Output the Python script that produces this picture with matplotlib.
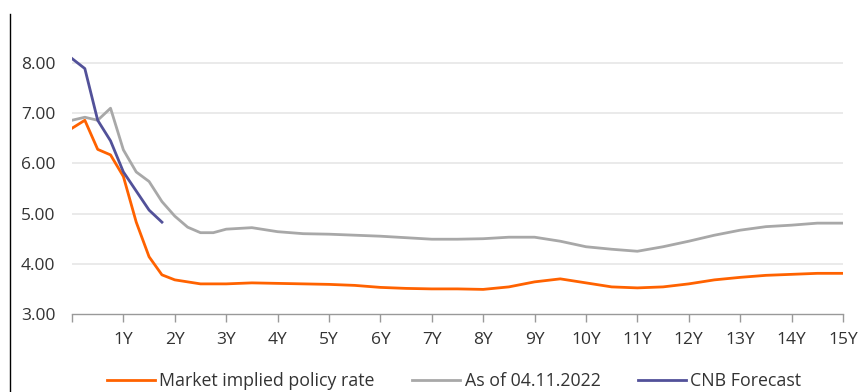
import matplotlib.pyplot as plt
from matplotlib.lines import Line2D

plt.rcParams['font.family'] = ['Open Sans', 'DejaVu Sans']

# maturity in years: quarterly out to 3Y, then half-yearly
tenor = [0, 0.25, 0.5, 0.75, 1, 1.25, 1.5, 1.75, 2, 2.25, 2.5, 2.75, 3,
         3.5, 4, 4.5, 5, 5.5, 6, 6.5, 7, 7.5, 8, 8.5, 9, 9.5, 10,
         10.5, 11, 11.5, 12, 12.5, 13, 13.5, 14, 14.5, 15]

market_implied = [6.70, 6.86, 6.28, 6.17, 5.74, 4.83, 4.14, 3.78, 3.68, 3.64, 3.60, 3.60, 3.60,
                  3.62, 3.61, 3.60, 3.59, 3.57, 3.53, 3.51, 3.50, 3.50, 3.49, 3.54, 3.64, 3.70, 3.62,
                  3.54, 3.52, 3.54, 3.60, 3.68, 3.73, 3.77, 3.79, 3.81, 3.81]

as_of_0411 = [6.86, 6.92, 6.86, 7.10, 6.27, 5.83, 5.64, 5.24, 4.95, 4.73, 4.62, 4.62, 4.69,
              4.72, 4.64, 4.60, 4.59, 4.57, 4.55, 4.52, 4.49, 4.49, 4.50, 4.53, 4.53, 4.45, 4.34,
              4.29, 4.25, 4.34, 4.45, 4.57, 4.67, 4.74, 4.77, 4.81, 4.81]

cnb_tenor = [0, 0.25, 0.5, 0.75, 1, 1.25, 1.5, 1.75]
cnb_forecast = [8.09, 7.89, 6.86, 6.45, 5.83, 5.45, 5.07, 4.83]

xtick_labels = [''] + [f'{i}Y' for i in range(1, 16)]

orange = '#FF6200'
grey = '#A8A8A8'
indigo = '#525199'
text_col = '#333333'

fig = plt.figure(figsize=(8.6, 3.92), dpi=100)
ax = fig.add_axes([0.0837, 0.199, 0.8965, 0.717])

ax.plot(tenor, market_implied, color=orange, lw=2.0, label='Market implied policy rate')
ax.plot(tenor, as_of_0411, color=grey, lw=2.0, label='As of 04.11.2022')
ax.plot(cnb_tenor, cnb_forecast, color=indigo, lw=2.0, label='CNB Forecast')

ax.set_xlim(0, 15)
ax.set_ylim(3, 8.6)
ax.set_xticks(range(16))
ax.set_xticklabels(xtick_labels)
ax.set_yticks([3, 4, 5, 6, 7, 8])
ax.set_yticklabels([f'{v:.2f}' for v in [3, 4, 5, 6, 7, 8]])

for v in [4, 5, 6, 7, 8]:
    ax.axhline(v, color='#E6E6E6', lw=1.2, zorder=0)

for s in ['top', 'right', 'left']:
    ax.spines[s].set_visible(False)
ax.spines['bottom'].set_color('#999999')
ax.spines['bottom'].set_linewidth(1.0)

ax.tick_params(axis='x', colors='#999999', length=6, width=1.0, pad=7,
               labelcolor=text_col, labelsize=12.5)
ax.tick_params(axis='y', length=0, pad=12, labelcolor=text_col, labelsize=12.5)

# thin black rule on the left edge
fig.add_artist(Line2D([10 / 860, 10 / 860], [0, 1 - 14 / 392], color='black', lw=1.0))

fig.legend(loc='center', bbox_to_anchor=(0.528, 0.028), ncol=3, frameon=False,
           fontsize=12.8, handlelength=2.7, handletextpad=0.25, columnspacing=2.1,
           labelcolor=text_col)

fig.savefig('out.png', dpi=100)
